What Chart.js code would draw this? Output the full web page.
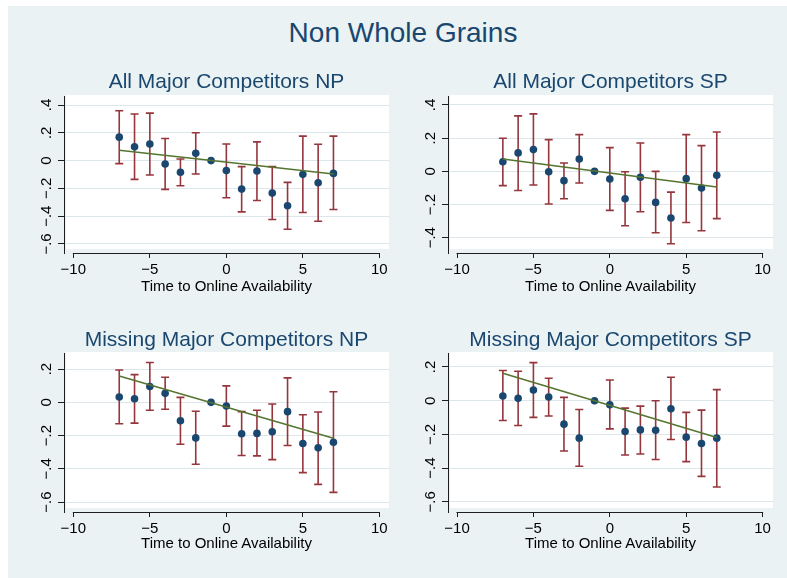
<!DOCTYPE html>
<html>
<head>
<meta charset="utf-8">
<script src="https://cdn.jsdelivr.net/npm/chart.js@4"></script>
<style>
  html, body { margin: 0; padding: 0; background: #ffffff; }
  #page { position: relative; width: 787px; height: 578px; overflow: hidden; background: #ffffff;
          font-family: "Liberation Sans", Arial, Helvetica, sans-serif; }
  #bg { position: absolute; left: 8px; top: 6px; width: 779px; height: 572px; background: #eaf2f3; }
  canvas { position: absolute; }
  .t { position: absolute; transform: translate(-50%, -50%); white-space: nowrap; line-height: 1; }
  .main { font-size: 28px; color: #1a476f; }
  .ptitle { font-size: 21px; color: #1a476f; }
  .xtitle { font-size: 15px; color: #000000; }
</style>
</head>
<body>
<div id="page"><div id="bg"></div></div>
<script>
// Event time relative to online availability
const eventTime = [-7, -6, -5, -4, -3, -2, -1, 0, 1, 2, 3, 4, 5, 6, 7];

// All major competitors, NP: coefficients and 95% bounds
const allNP_est = [0.169, 0.099, 0.120, -0.024, -0.084, 0.053, 0, -0.072, -0.205, -0.075, -0.234, -0.325, -0.099, -0.159, -0.092];
const allNP_hi  = [0.359, 0.335, 0.342, 0.159, 0.012, 0.200, null, 0.120, -0.043, 0.135, -0.043, -0.157, 0.176, 0.118, 0.176];
const allNP_lo  = [-0.022, -0.135, -0.104, -0.207, -0.181, -0.096, null, -0.267, -0.369, -0.287, -0.424, -0.494, -0.373, -0.436, -0.352];
const allNP_fit = [0.075, -0.096];

// All major competitors, SP
const allSP_est = [0.058, 0.111, 0.131, -0.002, -0.056, 0.074, 0, -0.046, -0.165, -0.036, -0.187, -0.281, -0.044, -0.100, -0.024];
const allSP_hi  = [0.199, 0.334, 0.346, 0.191, 0.050, 0.221, null, 0.143, -0.002, 0.171, 0.000, -0.125, 0.221, 0.155, 0.237];
const allSP_lo  = [-0.086, -0.115, -0.082, -0.197, -0.165, -0.070, null, -0.235, -0.328, -0.243, -0.370, -0.436, -0.308, -0.358, -0.285];
const allSP_fit = [0.074, -0.094];

// Missing major competitors, NP
const missNP_est = [0.032, 0.022, 0.095, 0.054, -0.111, -0.214, 0, -0.022, -0.189, -0.187, -0.177, -0.056, -0.248, -0.274, -0.240];
const missNP_hi  = [0.195, 0.167, 0.240, 0.151, 0.030, -0.054, null, 0.099, -0.056, -0.048, -0.010, 0.147, -0.075, -0.058, 0.064];
const missNP_lo  = [-0.129, -0.125, -0.048, -0.042, -0.252, -0.373, null, -0.143, -0.320, -0.322, -0.345, -0.260, -0.423, -0.494, -0.542];
const missNP_fit = [0.159, -0.216];

// Missing major competitors, SP
const missSP_est = [0.028, 0.014, 0.064, 0.022, -0.139, -0.222, 0, -0.024, -0.183, -0.173, -0.175, -0.048, -0.216, -0.254, -0.222];
const missSP_hi  = [0.179, 0.175, 0.226, 0.133, 0.020, -0.052, null, 0.123, -0.044, -0.032, 0.000, 0.139, -0.069, -0.056, 0.066];
const missSP_lo  = [-0.117, -0.147, -0.099, -0.091, -0.298, -0.389, null, -0.167, -0.322, -0.316, -0.349, -0.230, -0.361, -0.449, -0.512];
const missSP_fit = [0.163, -0.218];

// Fitted line endpoints on the time axis
const fitTime = [-7, 7];

// Axis ticks and labels
const xTicks = [-10, -5, 0, 5, 10];
const xTickLabels = ['\u221210', '\u22125', '0', '5', '10'];
const yTicksWide = [-0.6, -0.4, -0.2, 0, 0.2, 0.4];
const yLabelsWide = ['\u2212.6', '\u2212.4', '\u2212.2', '0', '.2', '.4'];
const yTicksMid = [-0.4, -0.2, 0, 0.2, 0.4];
const yLabelsMid = ['\u2212.4', '\u2212.2', '0', '.2', '.4'];
const yTicksLow = [-0.6, -0.4, -0.2, 0, 0.2];
const yLabelsLow = ['\u2212.6', '\u2212.4', '\u2212.2', '0', '.2'];

// Text
const mainTitle = 'Non Whole Grains';
const panelTitles = ['All Major Competitors NP', 'All Major Competitors SP', 'Missing Major Competitors NP', 'Missing Major Competitors SP'];
const xAxisTitle = 'Time to Online Availability';

// Styling
const NAVY = '#1a476f';
const MAROON = '#95363d';
const GREEN = '#55752f';
const GRID = '#dde7eb';
const AXIS = '#1e1e1e';
const FONT = '"Liberation Sans", Arial, Helvetica, sans-serif';
const YW = 10;   // width reserved for the y axis tick marks
const XH = 35;   // height reserved for the x axis

const panels = [
  { title: panelTitles[0], est: allNP_est, hi: allNP_hi, lo: allNP_lo, fit: allNP_fit,
    yTicks: yTicksWide, yLabels: yLabelsWide,
    box: { x: 8, y: 86, w: 387, h: 214 }, plot: { l: 64, t: 96, r: 389, b: 253 },
    xr: [-10.61, 10.63], yr: [-0.665, 0.465], titleY: 80, xTitleY: 285 },
  { title: panelTitles[1], est: allSP_est, hi: allSP_hi, lo: allSP_lo, fit: allSP_fit,
    yTicks: yTicksMid, yLabels: yLabelsMid,
    box: { x: 395, y: 86, w: 392, h: 214 }, plot: { l: 448, t: 96, r: 773, b: 253 },
    xr: [-10.59, 10.68], yr: [-0.492, 0.454], titleY: 80, xTitleY: 285 },
  { title: panelTitles[2], est: missNP_est, hi: missNP_hi, lo: missNP_lo, fit: missNP_fit,
    yTicks: yTicksLow, yLabels: yLabelsLow,
    box: { x: 8, y: 343, w: 387, h: 214 }, plot: { l: 64, t: 353, r: 389, b: 512 },
    xr: [-10.61, 10.63], yr: [-0.660, 0.297], titleY: 338, xTitleY: 542 },
  { title: panelTitles[3], est: missSP_est, hi: missSP_hi, lo: missSP_lo, fit: missSP_fit,
    yTicks: yTicksLow, yLabels: yLabelsLow,
    box: { x: 395, y: 343, w: 392, h: 214 }, plot: { l: 448, t: 353, r: 773, b: 512 },
    xr: [-10.59, 10.68], yr: [-0.660, 0.283], titleY: 338, xTitleY: 542 }
];

const page = document.getElementById('page');

function addText(text, cls, x, y) {
  const d = document.createElement('div');
  d.className = 't ' + cls;
  d.textContent = text;
  d.style.left = x + 'px';
  d.style.top = y + 'px';
  page.appendChild(d);
}

// White plot region, inset slightly from the axis lines
const plotRegion = {
  id: 'plotRegion',
  beforeDraw(chart) {
    const a = chart.chartArea, c = chart.ctx;
    c.save();
    c.fillStyle = '#ffffff';
    c.fillRect(a.left + 2, a.top - 1, a.right - a.left - 2, a.bottom - a.top - 3);
    c.restore();
  }
};

// Capped confidence intervals, drawn beneath the point estimates
const errorBars = {
  id: 'errorBars',
  beforeDatasetsDraw(chart, args, opts) {
    const xs = chart.scales.x, ys = chart.scales.y, c = chart.ctx;
    c.save();
    c.strokeStyle = MAROON;
    c.lineWidth = 1.6;
    c.lineCap = 'butt';
    eventTime.forEach((t, i) => {
      const hi = opts.hi[i], lo = opts.lo[i];
      if (hi == null || lo == null) return;
      const px = xs.getPixelForValue(t);
      const y1 = ys.getPixelForValue(hi), y2 = ys.getPixelForValue(lo);
      c.beginPath();
      c.moveTo(px, y1); c.lineTo(px, y2);
      c.moveTo(px - 4, y1); c.lineTo(px + 4, y1);
      c.moveTo(px - 4, y2); c.lineTo(px + 4, y2);
      c.stroke();
    });
    c.restore();
  }
};

// x axis line over the tick range and rotated y tick labels
const axisExtras = {
  id: 'axisExtras',
  afterDraw(chart, args, opts) {
    const xs = chart.scales.x, ys = chart.scales.y, a = chart.chartArea, c = chart.ctx;
    c.save();
    c.strokeStyle = AXIS;
    c.lineWidth = 1;
    c.beginPath();
    c.moveTo(xs.getPixelForValue(xTicks[0]) - 0.5, a.bottom + 0.5);
    c.lineTo(xs.getPixelForValue(xTicks[xTicks.length - 1]) + 0.5, a.bottom + 0.5);
    c.stroke();
    c.fillStyle = '#000000';
    c.font = '15px ' + FONT;
    c.textAlign = 'center';
    c.textBaseline = 'middle';
    opts.ticks.forEach((v, i) => {
      c.save();
      c.translate(a.left - 17, ys.getPixelForValue(v));
      c.rotate(-Math.PI / 2);
      c.fillText(opts.labels[i], 0, 0);
      c.restore();
    });
    c.restore();
  }
};

addText(mainTitle, 'main', 403, 33);

panels.forEach(p => {
  const canvas = document.createElement('canvas');
  canvas.width = p.box.w;
  canvas.height = p.box.h;
  canvas.style.left = p.box.x + 'px';
  canvas.style.top = p.box.y + 'px';
  page.appendChild(canvas);

  const pad = {
    left: p.plot.l - p.box.x - YW,
    top: p.plot.t - p.box.y,
    right: p.box.x + p.box.w - p.plot.r,
    bottom: p.box.y + p.box.h - p.plot.b - XH
  };

  new Chart(canvas, {
    data: {
      datasets: [
        {
          type: 'line',
          data: fitTime.map((t, i) => ({ x: t, y: p.fit[i] })),
          borderColor: GREEN, borderWidth: 1.5, pointRadius: 0, fill: false, order: 0
        },
        {
          type: 'scatter',
          data: eventTime.map((t, i) => ({ x: t, y: p.est[i] })),
          backgroundColor: NAVY, borderWidth: 0, pointRadius: 3.8, order: 1
        }
      ]
    },
    options: {
      responsive: false,
      animation: false,
      devicePixelRatio: 1,
      layout: { padding: pad },
      plugins: {
        legend: { display: false },
        tooltip: { enabled: false },
        errorBars: { hi: p.hi, lo: p.lo },
        axisExtras: { ticks: p.yTicks, labels: p.yLabels }
      },
      scales: {
        x: {
          type: 'linear', min: p.xr[0], max: p.xr[1],
          afterBuildTicks: s => { s.ticks = xTicks.map(v => ({ value: v })); },
          afterFit: s => { s.height = XH; s.paddingLeft = 0; s.paddingRight = 0; },
          grid: { drawOnChartArea: false, drawTicks: true, tickLength: 5, tickColor: AXIS, tickWidth: 1 },
          border: { display: false },
          ticks: {
            autoSkip: false, maxRotation: 0, minRotation: 0, padding: 3,
            color: '#000000', font: { family: FONT, size: 15 },
            callback: (v, i) => xTickLabels[i]
          }
        },
        y: {
          type: 'linear', min: p.yr[0], max: p.yr[1],
          afterBuildTicks: s => { s.ticks = p.yTicks.map(v => ({ value: v })); },
          afterFit: s => { s.width = YW; s.paddingTop = 0; s.paddingBottom = 0; },
          grid: { color: GRID, lineWidth: 1, drawTicks: true, tickLength: 6, tickColor: AXIS, tickWidth: 1 },
          border: { display: true, color: AXIS, width: 1 },
          ticks: { display: false }
        }
      }
    },
    plugins: [plotRegion, errorBars, axisExtras]
  });

  const cx = (p.plot.l + p.plot.r) / 2;
  addText(p.title, 'ptitle', cx, p.titleY);
  addText(xAxisTitle, 'xtitle', cx, p.xTitleY);
});
</script>
</body>
</html>
